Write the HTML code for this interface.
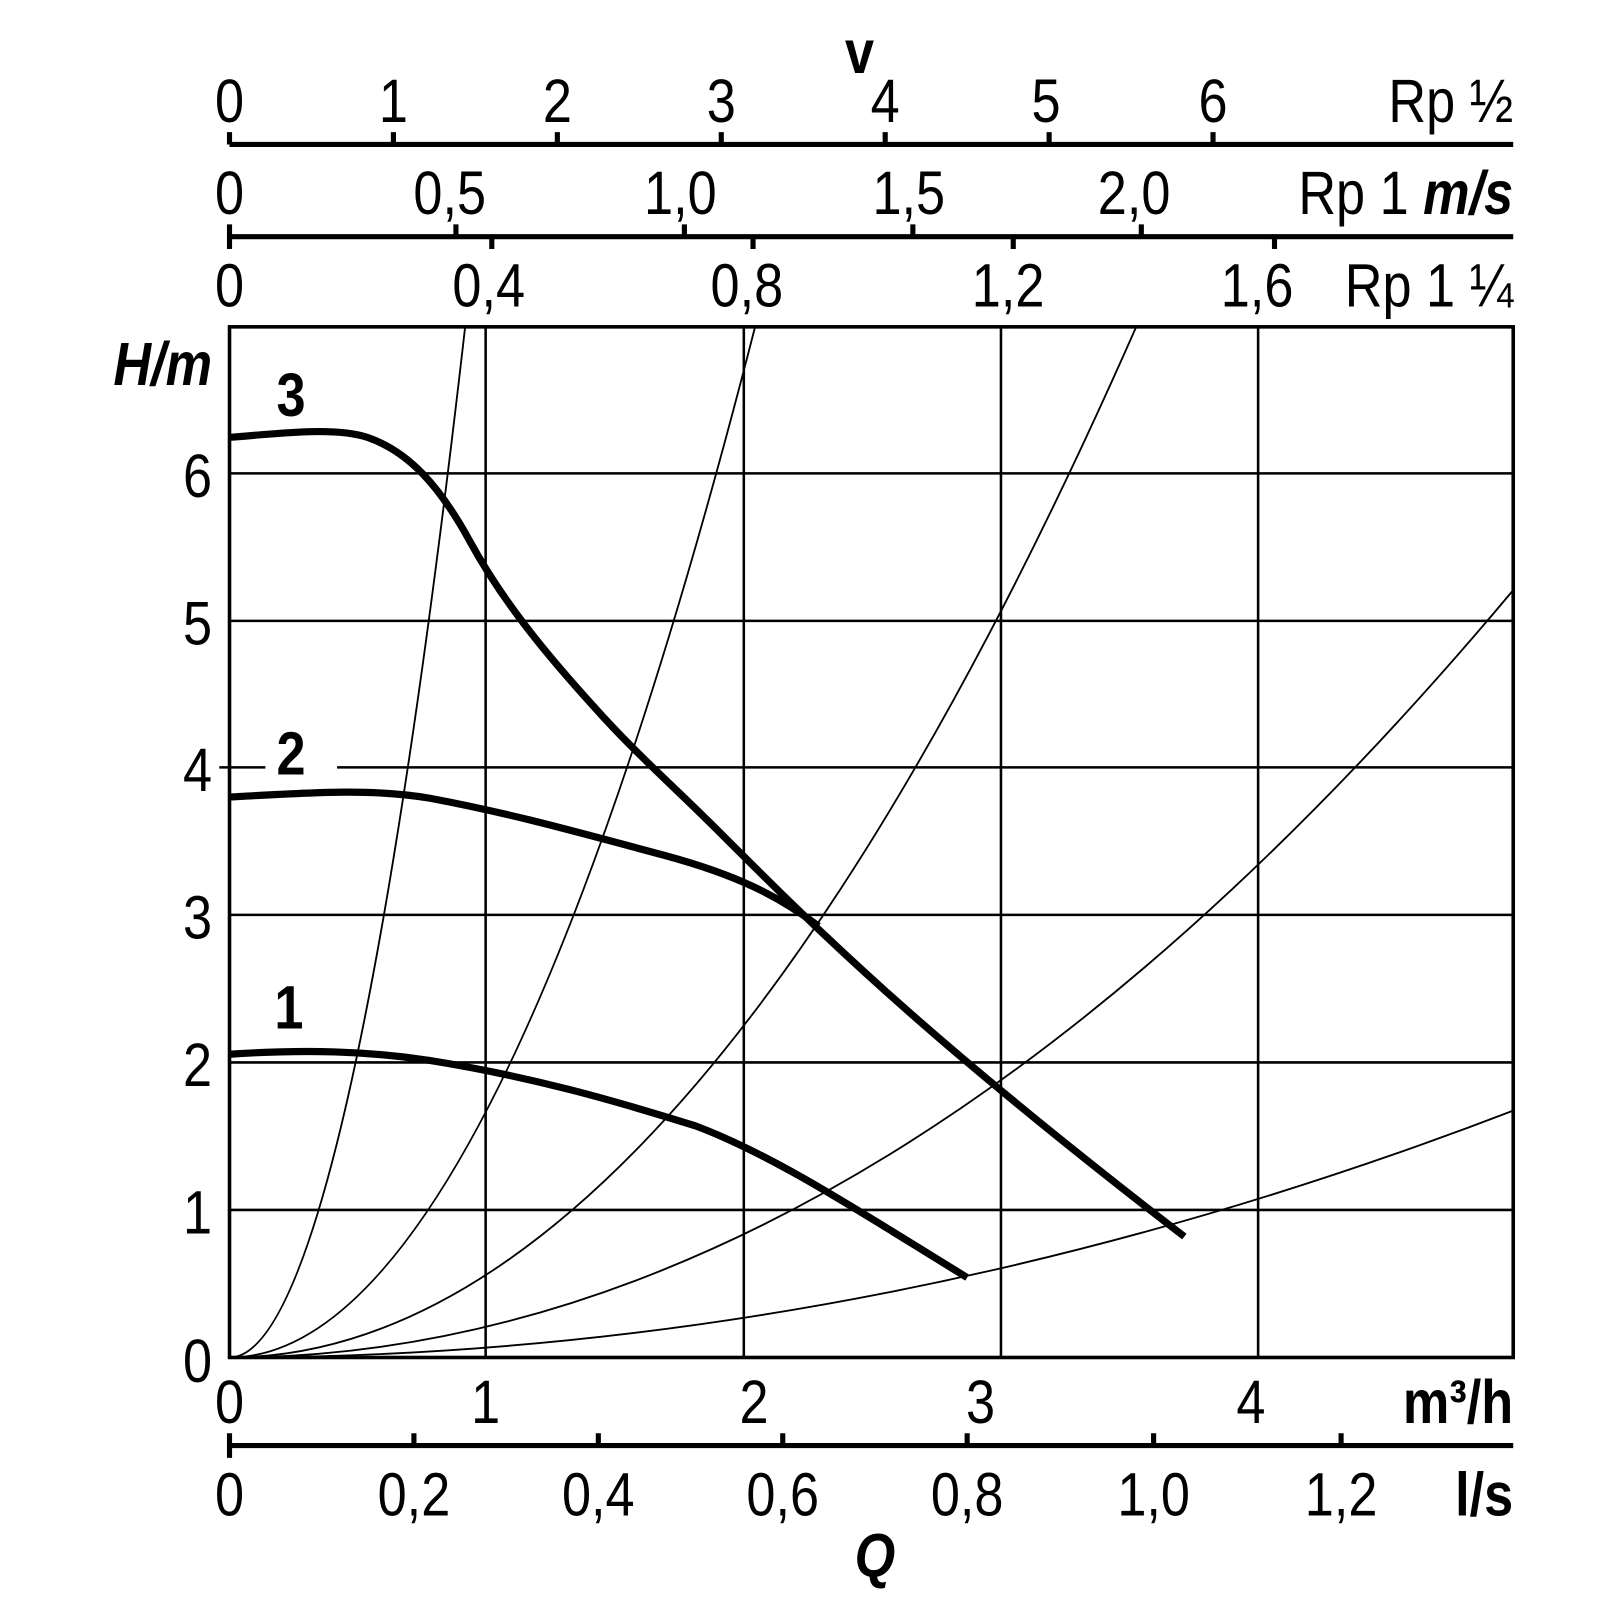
<!DOCTYPE html>
<html><head><style>html,body{margin:0;padding:0;background:#fff}</style></head>
<body>
<svg width="1600" height="1600" viewBox="0 0 1600 1600" xmlns="http://www.w3.org/2000/svg" font-family="Liberation Sans, sans-serif" font-size="60">
<rect width="1600" height="1600" fill="#fff"/>
<g transform="translate(-1,-1) scale(1.0245)">
<g stroke="#000" stroke-width="2.5" fill="none">
<rect x="225" y="320" width="1253" height="1006" stroke-width="3.5"/>
<line x1="475" y1="320" x2="475" y2="1326"/>
<line x1="727" y1="320" x2="727" y2="1326"/>
<line x1="978" y1="320" x2="978" y2="1326"/>
<line x1="1229" y1="320" x2="1229" y2="1326"/>
<line x1="225" y1="1182" x2="1478" y2="1182"/>
<line x1="225" y1="1038" x2="1478" y2="1038"/>
<line x1="225" y1="894" x2="1478" y2="894"/>
<line x1="330" y1="750" x2="1478" y2="750"/>
<line x1="215" y1="750" x2="260" y2="750"/>
<line x1="225" y1="607" x2="1478" y2="607"/>
<line x1="225" y1="463" x2="1478" y2="463"/>
</g>
<g stroke="#000" stroke-width="1.8" fill="none">
<path d="M225,1326 Q340,1326 455,320"/>
<path d="M225,1326 Q481,1326 738,320"/>
<path d="M225,1326 Q667,1326 1110,320"/>
<path d="M225,1326 Q851,1326 1478,577"/>
<path d="M225,1326 Q851,1326 1478,1085"/>
</g>
<g stroke="#000" stroke-width="7" fill="none" stroke-linejoin="round">
<path d="M225,428 C280,423 330,418 360,428 C400,442 430,475 460,530 C490,585 530,635 580,690 C620,735 660,770 700,810 C800,910 900,1010 1157,1208"/>
<path d="M225,779 C300,775 360,770 420,780 C500,795 560,812 650,836 C720,855 760,875 800,905"/>
<path d="M225,1030 C300,1025 360,1027 420,1036 C520,1052 600,1075 680,1100 C760,1130 850,1190 945,1248"/>
</g>
<g stroke="#000" stroke-width="5" fill="none">
<line x1="225" y1="142" x2="1478" y2="142"/>
<line x1="225" y1="232" x2="1478" y2="232"/>
<line x1="225" y1="1412" x2="1478" y2="1412"/>
<path d="M225,130V142M385,130V142M545,130V142M705,130V142M865,130V142M1025,130V142M1185,130V142"/>
<path d="M225,220V244M446,220V232M669,220V232M892,220V232M1115,220V232M481,232V244M736,232V244M990,232V244M1245,232V244"/>
<path d="M225,1400V1424M405,1400V1412M585,1400V1412M765,1400V1412M945,1400V1412M1127,1400V1412M1310,1400V1412"/>
</g>
<g fill="#000" transform="scale(0.85,1)">
<text x="264.7" y="120" text-anchor="middle">0</text>
<text x="452.9" y="120" text-anchor="middle">1</text>
<text x="641.2" y="120" text-anchor="middle">2</text>
<text x="829.4" y="120" text-anchor="middle">3</text>
<text x="1017.6" y="120" text-anchor="middle">4</text>
<text x="1202.4" y="120" text-anchor="middle">5</text>
<text x="1394.1" y="120" text-anchor="middle">6</text>
<text x="1738.8" y="120" text-anchor="end">Rp ½</text>
<text x="988.2" y="72" text-anchor="middle" font-weight="bold">v</text>
<text x="264.7" y="210" text-anchor="middle">0</text>
<text x="517.6" y="210" text-anchor="middle">0,5</text>
<text x="782.4" y="210" text-anchor="middle">1,0</text>
<text x="1044.7" y="210" text-anchor="middle">1,5</text>
<text x="1303.5" y="210" text-anchor="middle">2,0</text>
<text x="1738.8" y="210" text-anchor="end">Rp 1 <tspan font-weight="bold" font-style="italic">m/s</tspan></text>
<text x="264.7" y="300" text-anchor="middle">0</text>
<text x="562.4" y="300" text-anchor="middle">0,4</text>
<text x="858.8" y="300" text-anchor="middle">0,8</text>
<text x="1158.8" y="300" text-anchor="middle">1,2</text>
<text x="1444.7" y="300" text-anchor="middle">1,6</text>
<text x="1738.8" y="300" text-anchor="end">Rp 1 ¼</text>
<text x="244.7" y="1350" text-anchor="end">0</text>
<text x="244.7" y="1205" text-anchor="end">1</text>
<text x="244.7" y="1061" text-anchor="end">2</text>
<text x="244.7" y="917" text-anchor="end">3</text>
<text x="244.7" y="773" text-anchor="end">4</text>
<text x="244.7" y="630" text-anchor="end">5</text>
<text x="244.7" y="486" text-anchor="end">6</text>
<text x="244.7" y="377" text-anchor="end" font-weight="bold" font-style="italic">H/m</text>
<text x="335.3" y="407" text-anchor="middle" font-weight="bold">3</text>
<text x="335.3" y="757" text-anchor="middle" font-weight="bold">2</text>
<text x="332.9" y="1005" text-anchor="middle" font-weight="bold">1</text>
<text x="264.7" y="1390" text-anchor="middle">0</text>
<text x="558.8" y="1390" text-anchor="middle">1</text>
<text x="867.1" y="1390" text-anchor="middle">2</text>
<text x="1127.1" y="1390" text-anchor="middle">3</text>
<text x="1437.6" y="1390" text-anchor="middle">4</text>
<text x="1738.8" y="1390" text-anchor="end" font-weight="bold">m³/h</text>
<text x="264.7" y="1480" text-anchor="middle">0</text>
<text x="476.5" y="1480" text-anchor="middle">0,2</text>
<text x="688.2" y="1480" text-anchor="middle">0,4</text>
<text x="900" y="1480" text-anchor="middle">0,6</text>
<text x="1111.8" y="1480" text-anchor="middle">0,8</text>
<text x="1325.9" y="1480" text-anchor="middle">1,0</text>
<text x="1541.2" y="1480" text-anchor="middle">1,2</text>
<text x="1738.8" y="1480" text-anchor="end" font-weight="bold">l/s</text>
<text x="1005.9" y="1540" text-anchor="middle" font-weight="bold" font-style="italic">Q</text>
</g>
</g>
</svg>
</body></html>
